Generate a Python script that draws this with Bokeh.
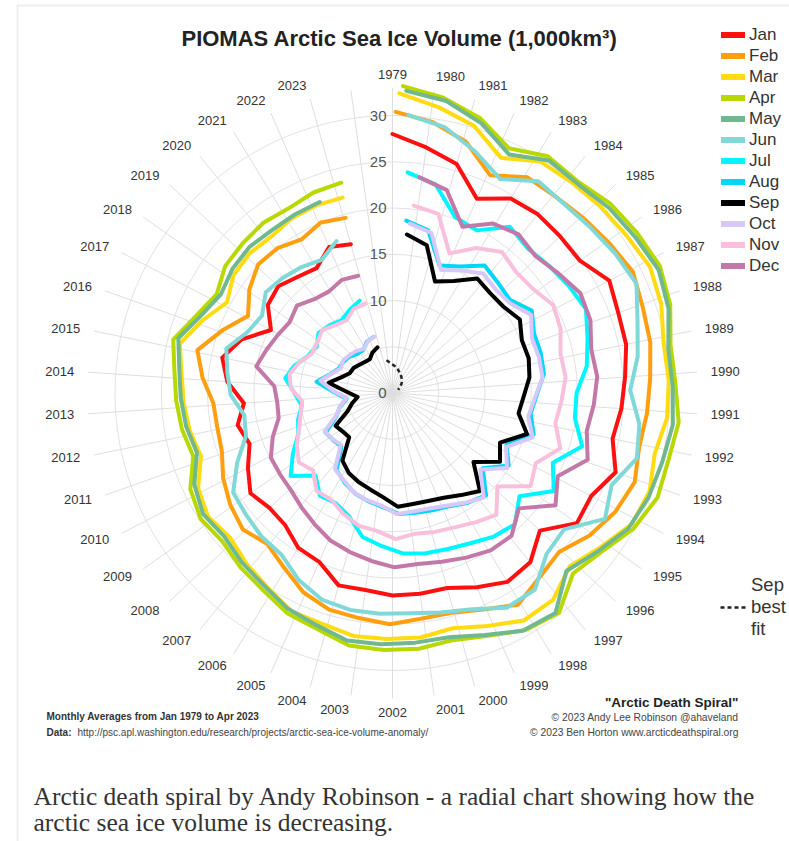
import math
from bokeh.plotting import figure
from bokeh.models import ColumnDataSource, Legend, LegendItem, Range1d, BoxAnnotation
from bokeh.embed import file_html
from bokeh.resources import INLINE
from bokeh.core.properties import value

# ---------------- data (1,000 km3) ----------------
years = list(range(1979, 2024))
month_names = ["Jan", "Feb", "Mar", "Apr", "May", "Jun", "Jul", "Aug", "Sep", "Oct", "Nov", "Dec"]
month_colors = ["#ff1010", "#ff9f10", "#ffdc10", "#b8d800", "#70b890", "#80d8d8",
                "#00f6ff", "#00d8f8", "#000000", "#d8c8f8", "#f8c0dc", "#c478a8"]

jan = [28.0, 26.8, 25.7, 22.9, 24.6, 24.9, 24.8, 24.8, 26.4, 25.9, 25.8, 25.2, 24.8, 24.3, 25.6, 24.2, 24.4, 21.8, 23.6, 23.9,
       22.9, 21.9, 21.9, 21.9, 21.5, 21.6, 19.9, 19.6, 18.4, 18.2, 18.8, 17.6, 16.4, 17.1, 16.1, 17.9, 18.8, 17.3, 14.8, 16.5,
       16.9, 16.2, 15.8, 17.2, 16.7]
feb = [30.4, 29.6, 28.3, 25.8, 27.5, 27.6, 28.0, 28.5, 29.1, 28.6, 28.4, 27.9, 27.6, 27.3, 27.9, 27.3, 26.3, 24.9, 25.5, 26.6,
       25.4, 24.6, 24.6, 25.0, 24.6, 24.4, 23.6, 22.2, 21.2, 21.9, 21.3, 20.5, 19.5, 19.3, 19.4, 20.6, 21.6, 19.6, 17.7, 19.1,
       20.1, 20.0, 19.3, 20.0, 19.6]
mar = [32.4, 31.3, 30.2, 28.0, 29.7, 29.9, 30.2, 30.5, 31.0, 30.6, 29.8, 29.9, 29.8, 29.1, 29.75, 29.5, 28.0, 26.8, 28.3, 28.4,
       27.2, 26.25, 26.6, 26.6, 26.6, 26.1, 26.0, 25.0, 24.3, 23.5, 24.0, 23.4, 21.8, 22.3, 22.6, 22.9, 23.6, 22.0, 20.4, 21.4,
       21.6, 21.4, 21.8, 21.9, 21.8]
apr = [33.2, 32.4, 31.2, 29.3, 30.6, 30.4, 31.2, 31.6, 32.0, 31.5, 30.5, 30.6, 31.1, 30.7, 30.8, 29.9, 28.4, 27.6, 29.8, 29.4,
       28.2, 27.5, 27.8, 27.8, 27.7, 26.8, 26.4, 25.5, 25.0, 24.4, 24.8, 24.2, 22.6, 23.1, 23.4, 23.7, 24.4, 22.8, 21.8, 22.7,
       22.9, 23.1, 22.9, 23.3, 23.4]
may = [32.7, 32.1, 30.7, 28.7, 30.3, 30.2, 30.8, 31.2, 31.7, 31.2, 30.2, 30.3, 30.5, 30.1, 29.9, 29.4, 28.0, 26.9, 29.6, 29.3,
       28.0, 27.1, 27.1, 27.2, 27.2, 26.4, 25.9, 25.0, 24.5, 23.9, 24.3, 23.6, 22.1, 22.6, 22.9, 23.2, 23.9, 22.3, 21.4, 21.9,
       22.1, 21.9, 22.0, 22.1]
jun = [30.1, 29.3, 27.6, 25.9, 27.8, 27.6, 27.9, 28.4, 28.9, 27.6, 26.8, 25.7, 26.9, 27.35, 25.7, 26.7, 23.7, 24.1, 26.25, 26.3,
       24.9, 24.3, 23.9, 23.9, 23.9, 23.6, 22.6, 21.2, 21.0, 20.6, 20.3, 18.4, 16.5, 16.2, 17.5, 18.0, 18.6, 17.0, 16.4, 17.5,
       17.2, 16.8, 16.3, 17.5]
jul = [23.9, 23.0, 20.2, 19.8, 22.0, 21.4, 21.8, 22.3, 22.8, 21.9, 21.2, 19.9, 19.9, 21.3, 18.9, 20.4, 17.7, 19.4, 19.0, 18.3,
       17.9, 17.7, 17.4, 16.6, 15.9, 14.1, 13.4, 13.6, 12.2, 14.2, 12.6, 11.1, 10.6, 9.9, 10.6, 11.7, 11.0, 10.0, 9.6, 10.3,
       10.0, 9.6, 10.1, 10.6]
aug = [18.7, 18.0, 14.7, 15.5, 17.0, 16.5, 16.2, 17.5, 16.6, 16.6, 16.5, 15.6, 15.1, 15.9, 13.5, 14.8, 12.7, 15.0, 14.4, 13.7,
       13.4, 13.2, 13.1, 12.4, 12.0, 11.6, 11.0, 10.3, 8.0, 8.2, 8.4, 6.6, 5.9, 5.0, 6.3, 8.3, 7.1, 6.4, 6.3, 6.1,
       5.7, 5.6, 6.2, 6.4]
sep = [17.2, 16.4, 12.9, 13.8, 15.4, 15.1, 15.2, 15.9, 15.1, 15.2, 14.9, 14.2, 13.8, 15.2, 12.8, 13.8, 11.5, 14.2, 13.3, 12.6,
       12.3, 12.2, 12.3, 11.3, 10.7, 10.3, 9.85, 9.1, 6.7, 6.8, 7.1, 5.25, 4.5, 3.8, 4.9, 7.0, 5.8, 5.1, 5.0, 4.7,
       4.5, 4.4, 4.9, 5.2]
oct_ = [18.4, 17.8, 14.3, 15.2, 16.2, 15.8, 16.0, 17.2, 16.2, 16.3, 16.3, 15.4, 14.9, 15.9, 13.6, 14.8, 12.6, 15.0, 14.2, 13.5,
        13.1, 13.0, 13.1, 12.2, 11.9, 11.5, 10.8, 10.3, 7.9, 8.2, 8.4, 6.5, 5.8, 5.0, 6.4, 7.9, 6.9, 6.2, 6.4, 6.2,
        6.0, 5.7, 6.2, 6.4]
nov = [20.4, 20.0, 16.3, 18.1, 19.3, 18.7, 18.9, 19.8, 19.45, 18.65, 18.8, 18.3, 17.9, 19.1, 17.25, 18.0, 15.2, 17.3, 16.6, 16.0,
       15.7, 15.4, 15.8, 15.0, 14.8, 14.1, 13.3, 13.4, 12.0, 12.6, 11.8, 10.8, 10.2, 9.8, 11.0, 11.3, 10.6, 9.7, 9.8, 10.2,
       9.6, 9.3, 10.0, 10.1]
dec = [23.5, 22.7, 19.5, 21.3, 21.9, 21.4, 22.1, 23.0, 22.8, 22.0, 22.2, 21.8, 21.4, 22.3, 20.0, 21.4, 18.5, 20.1, 20.05, 19.5,
       19.0, 18.7, 18.85, 18.3, 17.8, 17.3, 16.5, 15.8, 15.2, 15.0, 14.9, 13.8, 12.6, 12.5, 12.8, 15.0, 14.4, 13.9, 13.5, 14.0,
       13.2, 12.95, 13.4, 13.2]
monthly = [jan, feb, mar, apr, may, jun, jul, aug, sep, oct_, nov, dec]

# Sep best-fit projection (dashed)
fit_years = [2023, 2024, 2025, 2026, 2027, 2028, 2029, 2030, 2031, 2032]
fit_values = [3.6, 3.2, 2.9, 2.6, 2.3, 2.0, 1.7, 1.4, 1.0, 0.7]

ring_values = [5, 10, 15, 20, 25, 30]
ring_labels = ["0", "10", "15", "20", "25", "30"]
ring_label_values = [0, 10, 15, 20, 25, 30]

title_text = "PIOMAS Arctic Sea Ice Volume (1,000km\u00b3)"
note1 = "Monthly Averages from Jan 1979 to Apr 2023"
note2_head = "Data:"
note2_url = "http://psc.apl.washington.edu/research/projects/arctic-sea-ice-volume-anomaly/"
credit_title = "\"Arctic Death Spiral\""
credit1 = "\u00a9 2023 Andy Lee Robinson @ahaveland"
credit2 = "\u00a9 2023 Ben Horton www.arcticdeathspiral.org"
caption1 = "Arctic death spiral by Andy Robinson - a radial chart showing how the"
caption2 = "arctic sea ice volume is decreasing."

# ---------------- geometry ----------------
W, H = 789, 841
S = 9.25                 # px per 1,000 km3
CX, CY = 392.0, 392.5    # centre of spiral in figure pixels
STEP = 360.0 / 46.0      # degrees per year

def px(X):  # picture x -> data
    return (X - CX) / S

def py(Y):  # picture y -> data
    return (CY - Y) / S

def polar(t_years, r):
    th = math.radians(t_years * STEP)
    return r * math.sin(th), r * math.cos(th)

p = figure(width=W, height=H, output_backend="svg", toolbar_location=None,
           x_range=Range1d(-CX / S, (W - CX) / S), y_range=Range1d(-(H - CY) / S, CY / S),
           x_axis_location=None, y_axis_location=None, min_border=0,
           background_fill_color="white", border_fill_color="white")
p.outline_line_color = None
p.grid.visible = False

# frame of the web page image
p.add_layout(BoxAnnotation(left=px(17), top=py(5), right=px(1200), bottom=py(1200),
                           fill_alpha=0, line_color="#c8c8c8", line_width=2))

# grid rings and spokes
p.circle(x=[0] * len(ring_values), y=[0] * len(ring_values), radius=ring_values,
         fill_color=None, line_color="#e2e2e2", line_width=1)
sx0, sy0, sx1, sy1 = [], [], [], []
for k in range(len(years) + 1):
    x1, y1 = polar(k, 33.0)
    sx0.append(0); sy0.append(0); sx1.append(x1); sy1.append(y1)
p.segment(x0=sx0, y0=sy0, x1=sx1, y1=sy1, line_color="#dedede", line_width=1)

# radial value labels
p.text(x=[px(386)] * len(ring_labels), y=ring_label_values, text=ring_labels,
       text_align="right", text_baseline="middle", text_font=value("Liberation Sans"),
       text_font_size="15px", text_color="#555555")

# year labels: anchored just beyond the spoke ends, aligned away from the centre
groups = {"left": ([], [], []), "right": ([], [], []), "center": ([], [], [])}
RL = 319.0 / S
for i, yr in enumerate(years):
    deg = i * STEP
    th = math.radians(deg)
    if abs(deg) < 1e-6 or abs(deg - 180.0) < 1.0:
        key = "center"
    elif deg < 180.0:
        key = "left"
    else:
        key = "right"
    gx, gy, gt = groups[key]
    gx.append(RL * math.sin(th)); gy.append(RL * math.cos(th)); gt.append(str(yr))
for key, (gx, gy, gt) in groups.items():
    p.text(x=gx, y=gy, text=gt, text_align=key, text_baseline="middle",
           text_font=value("Liberation Sans"), text_font_size="13px", text_color="#333333")

# monthly lines (each point sits at year + month/12 around the circle)
renderers = []
for m, vals in enumerate(monthly):
    xs, ys = [], []
    for i, v in enumerate(vals):
        x, y = polar(i + m / 12.0, v)
        xs.append(x); ys.append(y)
    src = ColumnDataSource(dict(x=xs, y=ys, year=years[:len(vals)], vol=vals))
    r = p.line("x", "y", source=src, line_color=month_colors[m], line_width=4,
               line_join="round", line_cap="round")
    renderers.append(r)

# best fit
fx, fy = [], []
for yr, v in zip(fit_years, fit_values):
    x, y = polar(yr - 1979 + 8 / 12.0, v)
    fx.append(x); fy.append(y)
fit_r = p.line(fx, fy, line_color="#222222", line_width=2.5, line_dash="4 3")

# legend (swatches use thicker invisible renderers)
NAN = float("nan")
items = []
for m, name in enumerate(month_names):
    d = p.line([NAN], [NAN], line_color=month_colors[m], line_width=6, line_cap="round")
    items.append(LegendItem(label=name, renderers=[d]))
leg = Legend(items=items, location=(721, 565), orientation="vertical",
             glyph_width=24, glyph_height=21, label_height=21, spacing=0, padding=0, margin=0,
             label_standoff=4, label_text_font="Liberation Sans", label_text_font_size="17px",
             label_text_color="#333333", background_fill_alpha=0, border_line_color=None)
p.add_layout(leg)

fd = p.line([NAN], [NAN], line_color="#222222", line_width=2.5, line_dash="4 3")
leg2 = Legend(items=[LegendItem(label="Sep\nbest\nfit", renderers=[fd])], location=(720, 199),
              glyph_width=27, glyph_height=70, label_height=70, spacing=0, padding=0, margin=0,
              label_standoff=4, label_text_font="Liberation Sans", label_text_font_size="18.5px",
              label_text_color="#333333", label_text_line_height=1.3,
              background_fill_alpha=0, border_line_color=None)
p.add_layout(leg2)

# title and notes
p.text(x=[px(399)], y=[py(38)], text=[title_text], text_align="center", text_baseline="middle",
       text_font=value("Liberation Sans"), text_font_style="bold", text_font_size="22px",
       text_color="#222222")
p.text(x=[px(46)], y=[py(716)], text=[note1], text_align="left", text_baseline="middle",
       text_font=value("Liberation Sans"), text_font_style="bold", text_font_size="10px",
       text_color="#333333")
p.text(x=[px(46)], y=[py(732)], text=[note2_head], text_align="left", text_baseline="middle",
       text_font=value("Liberation Sans"), text_font_style="bold", text_font_size="10px",
       text_color="#333333")
p.text(x=[px(77)], y=[py(732)], text=[note2_url], text_align="left", text_baseline="middle",
       text_font=value("Liberation Sans"), text_font_size="10px", text_color="#444444")
p.text(x=[px(738)], y=[py(702)], text=[credit_title], text_align="right", text_baseline="middle",
       text_font=value("Liberation Sans"), text_font_style="bold", text_font_size="13.5px",
       text_color="#222222")
p.text(x=[px(738), px(738)], y=[py(717), py(732)], text=[credit1, credit2], text_align="right",
       text_baseline="middle", text_font=value("Liberation Sans"), text_font_size="10.3px",
       text_color="#444444")

# caption
p.text(x=[px(33), px(33)], y=[py(796), py(822)], text=[caption1, caption2], text_align="left",
       text_baseline="alphabetic", text_font=value("Liberation Serif"), text_font_size="25.5px",
       text_color="#333333")

open("out.html", "w").write(file_html(p, INLINE))
